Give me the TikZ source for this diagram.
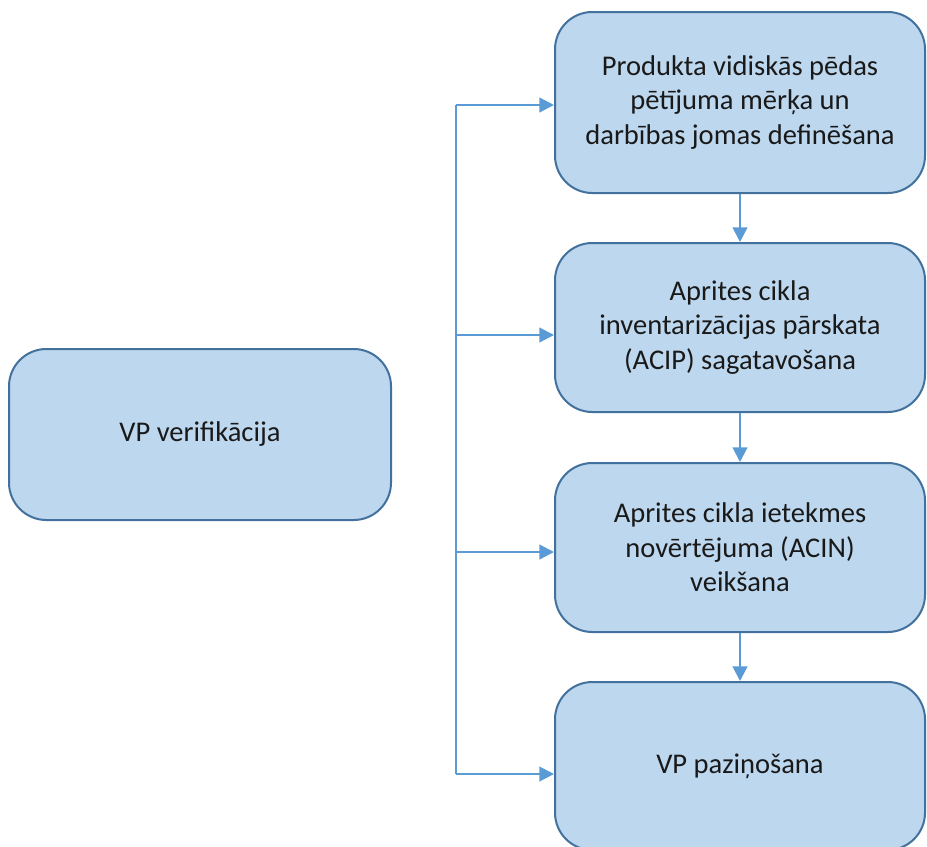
\documentclass[tikz,border=0pt]{standalone}
\usepackage{fontspec}
\setmainfont{Carlito}
\usetikzlibrary{arrows.meta}
\definecolor{boxfill}{HTML}{BDD7EE}
\definecolor{boxline}{HTML}{41719C}
\definecolor{flow}{HTML}{5B9BD5}
\begin{document}
\begin{tikzpicture}[x=0.75pt,y=-0.75pt,
  stage/.style={draw=boxline, line width=1.5pt, fill=boxfill, rounded corners=28pt,
    align=center, inner sep=0pt,
    font=\fontsize{21.4pt}{26pt}\selectfont, text=black!90},
  flowline/.style={draw=flow, line width=1.6pt},
  flowarrow/.style={flowline, -{Triangle[length=11pt,width=11pt]}}
]
\useasboundingbox (0,0) rectangle (927,846);
\clip (0,0) rectangle (927,846);

% stages
\node[stage, minimum width=286.5pt, minimum height=128.25pt] (vp) at (200,434.5) {VP verifikācija};
\node[stage, minimum width=277.5pt, minimum height=135.75pt] (b1) at (740,102.5)
  {Produkta vidiskās pēdas\\pētījuma mērķa un\\darbības jomas definēšana};
\node[stage, minimum width=277.5pt, minimum height=126.75pt] (b2) at (740,327.5)
  {Aprites cikla\\inventarizācijas pārskata\\(ACIP) sagatavošana};
\node[stage, minimum width=277.5pt, minimum height=126.75pt] (b3) at (740,547.5)
  {Aprites cikla ietekmes\\novērtējuma (ACIN)\\veikšana};
\node[stage, minimum width=277.5pt, minimum height=126pt] (b4) at (740,766)
  {VP paziņošana};

% trunk feeding every stage
\coordinate (t1) at (456,105);
\coordinate (t2) at (456,335);
\coordinate (t3) at (456,552);
\coordinate (t4) at (456,774);
\draw[flowline] (t1) -- (t4);
\draw[flowarrow] (t1) -- (b1.west |- t1);
\draw[flowarrow] (t2) -- (b2.west |- t2);
\draw[flowarrow] (t3) -- (b3.west |- t3);
\draw[flowarrow] (t4) -- (b4.west |- t4);

% sequence between stages
\draw[flowarrow] (b1.south) -- (b2.north);
\draw[flowarrow] (b2.south) -- (b3.north);
\draw[flowarrow] (b3.south) -- (b4.north);
\end{tikzpicture}
\end{document}
